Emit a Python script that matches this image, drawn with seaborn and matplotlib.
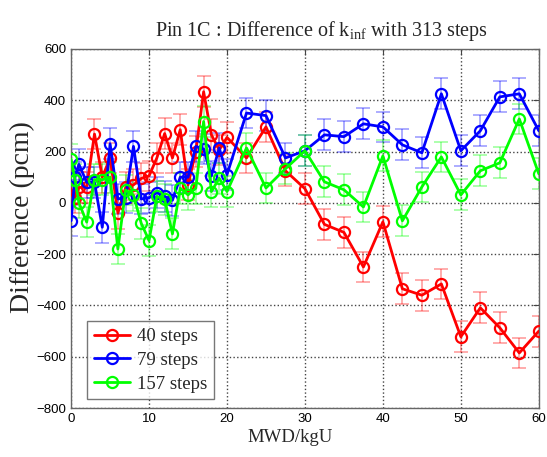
import numpy as np
import pandas as pd
import matplotlib
matplotlib.use("Agg")
import matplotlib.pyplot as plt
import seaborn as sns

# ---- data ----
mwd = [0, 0.5, 1, 2, 3, 4, 5, 6, 7, 8, 9, 10, 11, 12, 13, 14, 15, 16, 17, 18, 19, 20,
       22.5, 25, 27.5, 30, 32.5, 35, 37.5, 40, 42.5, 45, 47.5, 50, 52.5, 55, 57.5, 60]

steps40 = [55, 20, 60, 60, 268, 100, 175, -40, 60, 70, 95, 105, 175, 270, 175, 285, 70, 200,
           433, 265, 206, 255, 175, 296, 125, 55, -84, -115, -250, -74, -335, -360, -316,
           -522, -409, -487, -585, -500]
steps79 = [-70, 100, 150, 80, 80, -95, 230, 15, 20, 220, 15, 20, 40, 25, 10, 100, 100, 220,
           210, 105, 214, 110, 350, 340, 175, 203, 265, 258, 308, 296, 226, 195, 425, 203,
           281, 413, 425, 281]
steps157 = [170, 90, 0, -75, 90, 90, 100, -180, 50, 30, -80, -147, 25, 14, -121, 57, 31, 57,
            317, 44, 96, 44, 214, 58, 133, 203, 82, 51, -16, 183, -70, 62, 179, 31, 125, 156,
            327, 113]

err40 = [60] * len(mwd)
err79 = [60] * len(mwd)
err157 = [60] * len(mwd)

labels = ["40 steps", "79 steps", "157 steps"]
colors = ["#ff0000", "#0000ff", "#00ff00"]

xticks = [0, 10, 20, 30, 40, 50, 60]
yticks = [-800, -600, -400, -200, 0, 200, 400, 600]

# ---- style ----
sns.set_style("white")
plt.rcParams["font.family"] = ["Liberation Sans", "DejaVu Sans"]
plt.rcParams["mathtext.default"] = "regular"

fig = plt.figure(figsize=(5.47, 4.57), dpi=100)
ax = fig.add_axes([0.130, 0.107, 0.855, 0.786])

series = [steps40, steps79, steps157]
errs = [err40, err79, err157]

for ys, es, lab, col in zip(series, errs, labels, colors):
    ax.errorbar(mwd, ys, yerr=es, fmt="none", ecolor=col, alpha=0.38,
                elinewidth=1.2, capsize=5, capthick=1.2, zorder=2)

for ys, lab, col in zip(series, labels, colors):
    df = pd.DataFrame({"MWD": mwd, "diff": ys})
    sns.lineplot(data=df, x="MWD", y="diff", ax=ax, color=col, linewidth=2,
                 marker="o", markersize=8, markerfacecolor="none",
                 markeredgecolor=col, markeredgewidth=1.6, label=lab,
                 sort=False, zorder=3)

ax.set_xlim(0, 60)
ax.set_ylim(-800, 600)
ax.set_xticks(xticks)
ax.set_yticks(yticks)
ax.tick_params(axis="both", labelsize=9.5, direction="in", length=4,
               colors="#444444", labelcolor="black", top=True, right=True)
ax.grid(True, linestyle=":", color="#444444", linewidth=1.0)
for s in ax.spines.values():
    s.set_color("#666666")
    s.set_linewidth(1.0)

ax.set_title(r"Pin 1C : Difference of k$_{inf}$ with 313 steps",
             family="Liberation Serif", fontsize=14.5, pad=9, x=0.536)
ax.set_xlabel("MWD/kgU", family="Liberation Serif", fontsize=13.5, labelpad=3, x=0.468)
ax.set_ylabel("Difference (pcm)", family="Liberation Serif", fontsize=20, labelpad=1, y=0.532)

leg = ax.legend(loc="lower left", bbox_to_anchor=(0.035, 0.025),
                prop={"family": "Liberation Serif", "size": 13.5},
                frameon=True, fancybox=False, edgecolor="#555555",
                handlelength=1.9, handletextpad=0.4, borderpad=0.35,
                labelspacing=0.35, borderaxespad=0)
leg.get_frame().set_linewidth(1.0)

fig.savefig("out.png", dpi=100)
